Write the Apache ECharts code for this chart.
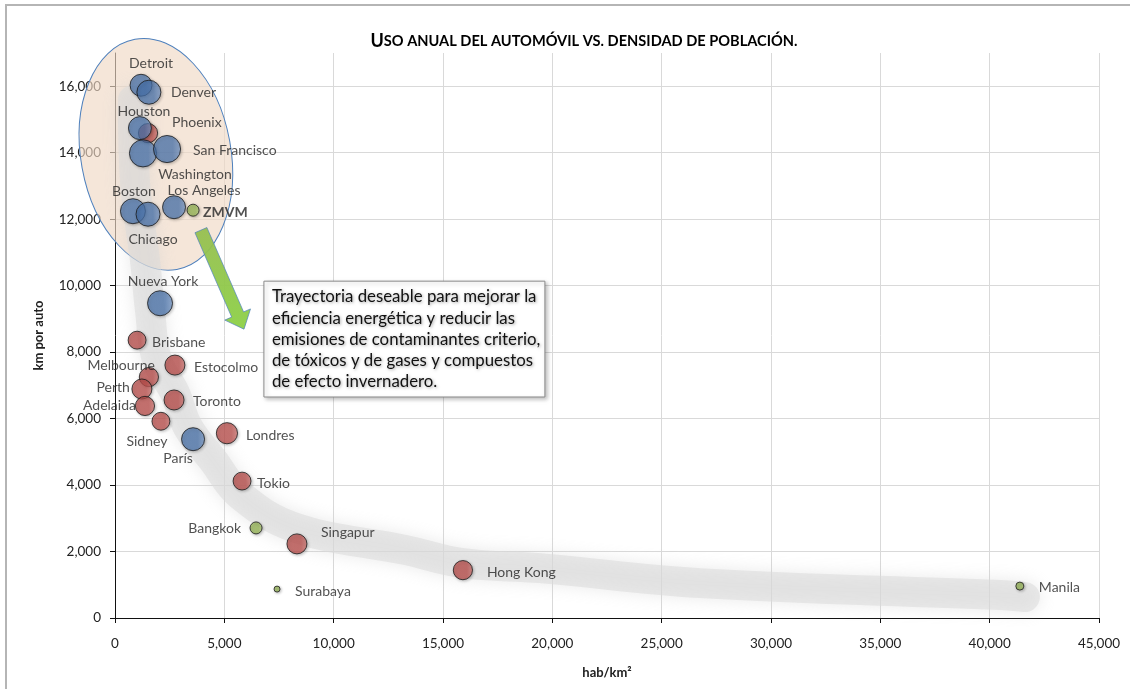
<!DOCTYPE html>
<html>
<head>
<meta charset="utf-8">
<script src="https://cdn.jsdelivr.net/npm/echarts@6/dist/echarts.min.js"></script>
<style>
  html, body { margin: 0; padding: 0; background: #fff; }
  #chart { width: 1130px; height: 689px; }
</style>
</head>
<body>
<div id="chart"></div>
<script>
// datos
const ciudades = ['Detroit', 'Denver', 'Houston', 'Phoenix', 'Washington', 'San Francisco', 'Boston', 'Chicago',
  'Los Angeles', 'ZMVM', 'Nueva York', 'Brisbane', 'Estocolmo', 'Melbourne', 'Perth', 'Adelaida', 'Toronto',
  'Sidney', 'París', 'Londres', 'Tokio', 'Bangkok', 'Singapur', 'Surabaya', 'Hong Kong', 'Manila'];
const densidad = [1190, 1550, 1140, 1510, 1280, 2380, 820, 1510, 2700, 3570, 2060, 1010, 2740, 1550, 1230, 1370,
  2700, 2100, 3570, 5120, 5810, 6450, 8320, 7410, 15910, 41380];
const kmPorAuto = [16030, 15820, 14740, 14590, 13980, 14110, 12240, 12150, 12360, 12270, 9470, 8360, 7610, 7250,
  6890, 6380, 6560, 5920, 5380, 5560, 4120, 2710, 2230, 870, 1440, 960];
const tamano = [30, 36, 33, 23, 46, 46, 39, 36, 33, 9, 39, 20, 25, 23, 25, 23, 25, 20, 33, 28, 20, 9, 25, 2.25, 23, 4];
const grupo = ['eu', 'eu', 'eu', 'otros', 'eu', 'eu', 'eu', 'eu', 'eu', 'emerg', 'eu', 'otros', 'otros', 'otros',
  'otros', 'otros', 'otros', 'otros', 'eu', 'otros', 'otros', 'emerg', 'otros', 'emerg', 'otros', 'emerg'];

// trayectoria deseable (banda gris)
const trayectoriaX = [820, 910, 1370, 1600, 1920, 2740, 3340, 4480, 5720, 8280, 13260, 15910, 19430, 26750, 40470, 41610];
const trayectoriaY = [15580, 13170, 10770, 9260, 7760, 6770, 5740, 4750, 3700, 2710, 2050, 1650, 1500, 1050, 690, 630];

// anotaciones en coordenadas de datos
const elipseCentro = [1870, 13950];
const flechaInicio = [3930, 11670];
const flechaFin = [5900, 8690];
const cajaEsquina1 = [6810, 10135];
const cajaEsquina2 = [19660, 6650];
const textoCaja = ['Trayectoria deseable para mejorar la', 'eficiencia energética y reducir las',
  'emisiones de contaminantes criterio,', 'de tóxicos y de gases y compuestos', 'de efecto invernadero.'];

// colocacion de etiquetas: [align, dx, dy] desde el centro de la burbuja
const etiquetas = {
  'Detroit': ['center', 10, -22], 'Denver': ['left', 22, 0], 'Houston': ['center', 4, -17],
  'Phoenix': ['left', 24, -11], 'Washington': ['center', 52, 21], 'San Francisco': ['left', 26, 1],
  'Boston': ['center', 1, -20], 'Chicago': ['center', 5, 25], 'Los Angeles': ['center', 30, -17],
  'ZMVM': ['left', 10, 2], 'Nueva York': ['center', 3, -22], 'Brisbane': ['left', 15, 2],
  'Estocolmo': ['left', 19, 2], 'Melbourne': ['right', 6, -12], 'Perth': ['right', -12, -2],
  'Adelaida': ['right', -9, 0], 'Toronto': ['left', 19, 2], 'Sidney': ['center', -14, 20],
  'París': ['center', -15, 19], 'Londres': ['left', 19, 2], 'Tokio': ['left', 15, 2],
  'Bangkok': ['right', -15, 1], 'Singapur': ['left', 24, -11], 'Surabaya': ['left', 18, 2],
  'Hong Kong': ['left', 24, 2], 'Manila': ['left', 19, 1]
};

const colores = {
  eu: ['rgba(74,118,178,0.88)', 'rgba(120,155,205,0.88)'],
  otros: ['rgba(192,80,77,0.92)', 'rgba(212,120,117,0.92)'],
  emerg: ['rgba(155,187,89,0.95)', 'rgba(185,210,130,0.95)']
};

const fuente = 'Lato, "Noto Sans", sans-serif';
const chart = echarts.init(document.getElementById('chart'));

function serieBurbujas(g) {
  const data = [];
  ciudades.forEach((c, i) => {
    if (grupo[i] !== g) return;
    const e = etiquetas[c];
    data.push({
      name: c,
      value: [densidad[i], kmPorAuto[i], tamano[i]],
      label: {
        align: e[0],
        offset: [e[1], e[2]],
        fontWeight: c === 'ZMVM' ? 'bold' : 'normal'
      }
    });
  });
  return {
    type: 'scatter',
    z: 5,
    data: data,
    symbolSize: (v) => Math.sqrt(v[2]) * 4,
    itemStyle: {
      color: {
        type: 'linear', x: 0, y: 0, x2: 1, y2: 0,
        colorStops: [
          { offset: 0, color: colores[g][0] },
          { offset: 0.7, color: colores[g][0] },
          { offset: 1, color: colores[g][1] }
        ]
      },
      borderColor: '#1a1a1a',
      borderWidth: 1,
      shadowBlur: 3,
      shadowOffsetX: 1,
      shadowOffsetY: 1,
      shadowColor: 'rgba(0,0,0,0.3)'
    },
    label: {
      show: true,
      position: 'inside',
      verticalAlign: 'middle',
      formatter: '{b}',
      color: '#262626',
      fontFamily: fuente,
      fontSize: 14
    },
    emphasis: { disabled: true }
  };
}

const option = {
  animation: false,
  title: {
    left: 579,
    top: 27,
    textAlign: 'center',
    text: '{a|U}{b|SO ANUAL DEL AUTOMÓVIL VS. DENSIDAD DE POBLACIÓN.}',
    textStyle: {
      rich: {
        a: { fontFamily: fuente, fontWeight: 'bold', fontSize: 18, color: '#000' },
        b: { fontFamily: fuente, fontWeight: 'bold', fontSize: 14.6, color: '#000' }
      }
    }
  },
  grid: { left: 115, right: 31, top: 53, bottom: 71 },
  xAxis: {
    type: 'value',
    min: 0,
    max: 45000,
    interval: 5000,
    name: 'hab/km²',
    nameLocation: 'middle',
    nameGap: 48,
    nameTextStyle: { fontFamily: fuente, fontWeight: 'bold', fontSize: 13, color: '#222' },
    axisLine: { show: true, lineStyle: { color: '#111', width: 1 } },
    axisTick: { show: true, length: 5, lineStyle: { color: '#111' } },
    axisLabel: {
      margin: 19,
      fontFamily: fuente,
      fontSize: 13.5,
      color: '#222',
      formatter: (v) => v.toLocaleString('en-US')
    },
    splitLine: { show: true, lineStyle: { color: '#d9d9d9' } }
  },
  yAxis: {
    type: 'value',
    min: 0,
    max: 17000,
    interval: 2000,
    name: 'km por auto',
    nameLocation: 'middle',
    nameGap: 70,
    nameRotate: 90,
    nameTextStyle: { fontFamily: fuente, fontWeight: 'bold', fontSize: 13, color: '#222' },
    axisLine: { show: true, lineStyle: { color: '#111', width: 1 } },
    axisTick: { show: true, length: 5, lineStyle: { color: '#111' } },
    axisLabel: {
      margin: 14,
      fontFamily: fuente,
      fontSize: 13.5,
      color: '#222',
      showMaxLabel: false,
      formatter: (v) => (v > 16000 ? '' : v.toLocaleString('en-US'))
    },
    splitLine: { show: true, showMaxLine: false, lineStyle: { color: '#d9d9d9' } }
  },
  series: [
    {
      type: 'line',
      z: 2,
      silent: true,
      smooth: 0.4,
      symbol: 'none',
      data: trayectoriaX.map((x, i) => [x, trayectoriaY[i]]),
      lineStyle: {
        width: 30,
        color: 'rgba(218,218,218,0.55)',
        cap: 'round',
        join: 'round',
        shadowBlur: 16,
        shadowColor: 'rgba(208,208,208,0.8)'
      }
    },
    serieBurbujas('otros'),
    serieBurbujas('eu'),
    serieBurbujas('emerg')
  ]
};

chart.setOption(option);

// anotaciones: elipse, flecha y cuadro de texto
function px(p) { return chart.convertToPixel({ gridIndex: 0 }, p); }

const c = px(elipseCentro);
const a = px(flechaInicio);
const b = px(flechaFin);
const dx = b[0] - a[0], dy = b[1] - a[1];
const L = Math.hypot(dx, dy);
const ux = dx / L, uy = dy / L, nx = -uy, ny = ux;
const sw = 6.5, hw = 14, hl = 16;
const base = [b[0] - ux * hl, b[1] - uy * hl];
const flecha = [
  [a[0] + nx * sw, a[1] + ny * sw],
  [base[0] + nx * sw, base[1] + ny * sw],
  [base[0] + nx * hw, base[1] + ny * hw],
  [b[0], b[1]],
  [base[0] - nx * hw, base[1] - ny * hw],
  [base[0] - nx * sw, base[1] - ny * sw],
  [a[0] - nx * sw, a[1] - ny * sw]
];
const k1 = px(cajaEsquina1);
const k2 = px(cajaEsquina2);

chart.setOption({
  graphic: [
    {
      type: 'rect',
      silent: true,
      shape: { x: 6, y: 5, width: 1140, height: 700 },
      style: { fill: 'none', stroke: '#b5b5b5', lineWidth: 2 }
    },
    {
      type: 'ellipse',
      silent: true,
      z: 1,
      x: c[0],
      y: c[1],
      rotation: 0.18,
      shape: { cx: 0, cy: 0, rx: 75, ry: 117 },
      style: { fill: 'rgba(240,216,196,0.65)', stroke: '#4f81bd', lineWidth: 1 }
    },
    {
      type: 'polygon',
      silent: true,
      z: 3,
      shape: { points: flecha },
      style: {
        fill: {
          type: 'linear', x: 0, y: 0, x2: 0, y2: 1,
          colorStops: [
            { offset: 0, color: 'rgba(150,190,80,0.95)' },
            { offset: 1, color: 'rgba(140,208,70,0.95)' }
          ]
        },
        stroke: 'rgba(79,129,189,0.7)',
        lineWidth: 1
      }
    },
    {
      type: 'rect',
      silent: true,
      z: 10,
      shape: { x: k1[0], y: k1[1], width: k2[0] - k1[0], height: k2[1] - k1[1] },
      style: {
        fill: '#fff',
        stroke: '#8a8a8a',
        lineWidth: 1,
        shadowBlur: 4,
        shadowOffsetX: 2,
        shadowOffsetY: 2,
        shadowColor: 'rgba(0,0,0,0.25)'
      }
    },
    {
      type: 'text',
      silent: true,
      z: 11,
      x: k1[0] + 8,
      y: k1[1] + 5,
      style: {
        text: textoCaja.join('\n'),
        font: '16.8px ' + fuente,
        lineHeight: 21.3,
        fill: '#111',
        textShadowColor: 'rgba(0,0,0,0.35)',
        textShadowBlur: 3,
        textShadowOffsetX: 1,
        textShadowOffsetY: 1
      }
    }
  ]
});
</script>
</body>
</html>
